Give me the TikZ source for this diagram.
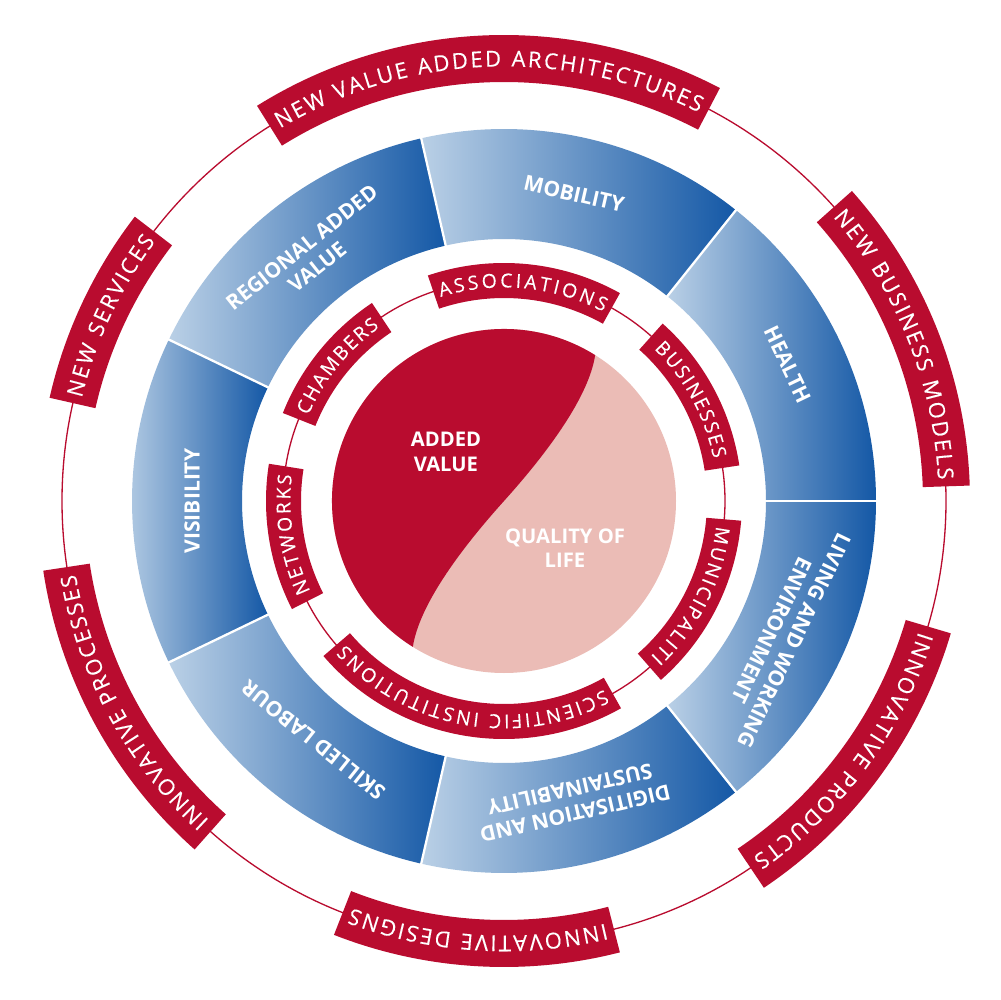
\documentclass[tikz,border=0pt]{standalone}
\usepackage{fontspec}
\setmainfont{Open Sans}
\newfontfamily\lblfam[FakeBold=0.3]{Open Sans}
\usetikzlibrary{decorations.text}
\definecolor{cred}{RGB}{185,12,47}
\definecolor{cpink}{RGB}{235,188,182}
\definecolor{bl}{RGB}{186,208,230}
\definecolor{bd}{RGB}{20,88,166}
\newcommand{\outerfont}{\lblfam\fontsize{12.5}{12.5}\selectfont}
\newcommand{\innerfont}{\lblfam\fontsize{11}{11}\selectfont}
% #1 centre angle, #2 text half span, #3 box half span, #4 inner r, #5 outer r, #6 baseline r, #7 font, #8 text
\newcommand{\arclabel}[8]{%
  \pgfmathsetmacro{\aS}{#1+#3}\pgfmathsetmacro{\aE}{#1-#3}%
  \pgfmathsetmacro{\tS}{#1+#2}\pgfmathsetmacro{\tE}{#1-#2}%
  \fill[labelband] (\aS:#4) arc[start angle=\aS, end angle=\aE, radius=#4]
     -- (\aE:#5) arc[start angle=\aE, end angle=\aS, radius=#5] -- cycle;
  \path[decorate, decoration={text along path, text color=white,
     text align=fit to path, text={|#7|#8}}]
     (\tS:#6) arc[start angle=\tS, end angle=\tE, radius=#6];
}
\tikzset{
  labelband/.style={fill=cred},
  ringline/.style={draw=cred, line width=0.75pt},
  segline/.style={draw=white, line width=1.3pt},
  bluelbl/.style={text=white, font=\fontsize{12}{14}\selectfont\bfseries, align=center, inner sep=0pt},
  centerlbl/.style={text=white, font=\fontsize{11.5}{14}\selectfont\bfseries, align=center, inner sep=0pt},
}
\begin{document}
\begin{tikzpicture}[x=0.02cm, y=0.02cm]
\useasboundingbox (-504,-499) rectangle (496,501);
\fill[white] (-504,-499) rectangle (496,501);

% thin rings
\draw[ringline] (0,0) circle[radius=442];
\draw[ringline] (0,0) circle[radius=221];

% blue ring segments
\foreach \k in {0,...,6}{
  \pgfmathsetmacro{\aa}{\k*360/7}
  \pgfmathsetmacro{\ab}{(\k+1)*360/7}
  \shade[left color=bl, right color=bd] (\aa:262) arc[start angle=\aa, end angle=\ab, radius=262]
     -- (\ab:372) arc[start angle=\ab, end angle=\aa, radius=372] -- cycle;
}
\foreach \k in {0,...,6}{
  \pgfmathsetmacro{\aa}{\k*360/7}
  \draw[segline] (\aa:258) -- (\aa:376);
}

% blue labels
\node[bluelbl, rotate=-12.86] (mob) at (77.14:315) {MOBILITY};
\node[bluelbl, rotate=38.57] (reg) at (128.57:312) {REGIONAL ADDED\\VALUE};
\node[bluelbl, rotate=90] (vis) at (180:312) {VISIBILITY};
\node[bluelbl, rotate=141.43] (skl) at (231.43:306) {SKILLED LABOUR};
\node[bluelbl, rotate=192.86] (dig) at (282.86:308) {DIGITISATION AND\\SUSTAINABILITY};
\node[bluelbl, rotate=244.29] (liv) at (334.29:310) {LIVING AND WORKING\\ENVIRONMENT};
\node[bluelbl, rotate=-64.29] (hea) at (25.71:315) {HEALTH};

% centre
\fill[cpink] (0,0) circle[radius=172];
\fill[cred] (58:172) arc[start angle=58, end angle=238, radius=172]
   .. controls (-85,-105) and (-45,-50) .. (0,0)
   .. controls (45,50) and (85,105) .. (58:172) -- cycle;
\node[centerlbl] (av) at (-58,49) {ADDED\\VALUE};
\node[centerlbl] (ql) at (61,-47) {QUALITY OF\\LIFE};

% inner labels
\arclabel{84.75}{22.5}{23.9}{203}{238}{213.6}{\innerfont}{ASSOCIATIONS}
\arclabel{141}{15.4}{17.3}{203}{238}{213.6}{\innerfont}{CHAMBERS}
\arclabel{28.4}{17}{19.8}{203}{238}{213.6}{\innerfont}{BUSINESSES}
\arclabel{-26.75}{20}{22}{203}{238}{213.6}{\innerfont}{MUNICIPALITI}
\arclabel{-99.95}{37.9}{39.4}{203}{238}{213.6}{\innerfont}{SCIENTIFIC INSTITUTIONS}
\arclabel{189}{16}{18}{203}{238}{213.6}{\innerfont}{NETWORKS}

% outer labels
\arclabel{92.2}{28.8}{29.8}{419}{466}{434.6}{\outerfont}{NEW VALUE ADDED ARCHITECTURES}
\arclabel{21.8}{19}{19.9}{419}{466}{434.6}{\outerfont}{NEW BUSINESS MODELS}
\arclabel{-36.3}{18.8}{19.8}{419}{466}{434.6}{\outerfont}{INNOVATIVE PRODUCTS}
\arclabel{-93.5}{17}{17.9}{419}{466}{434.6}{\outerfont}{INNOVATIVE DESIGNS}
\arclabel{208.5}{18.8}{19.9}{419}{466}{434.6}{\outerfont}{INNOVATIVE PROCESSES}
\arclabel{154.8}{11.5}{12.4}{419}{466}{434.6}{\outerfont}{NEW SERVICES}
\end{tikzpicture}
\end{document}
